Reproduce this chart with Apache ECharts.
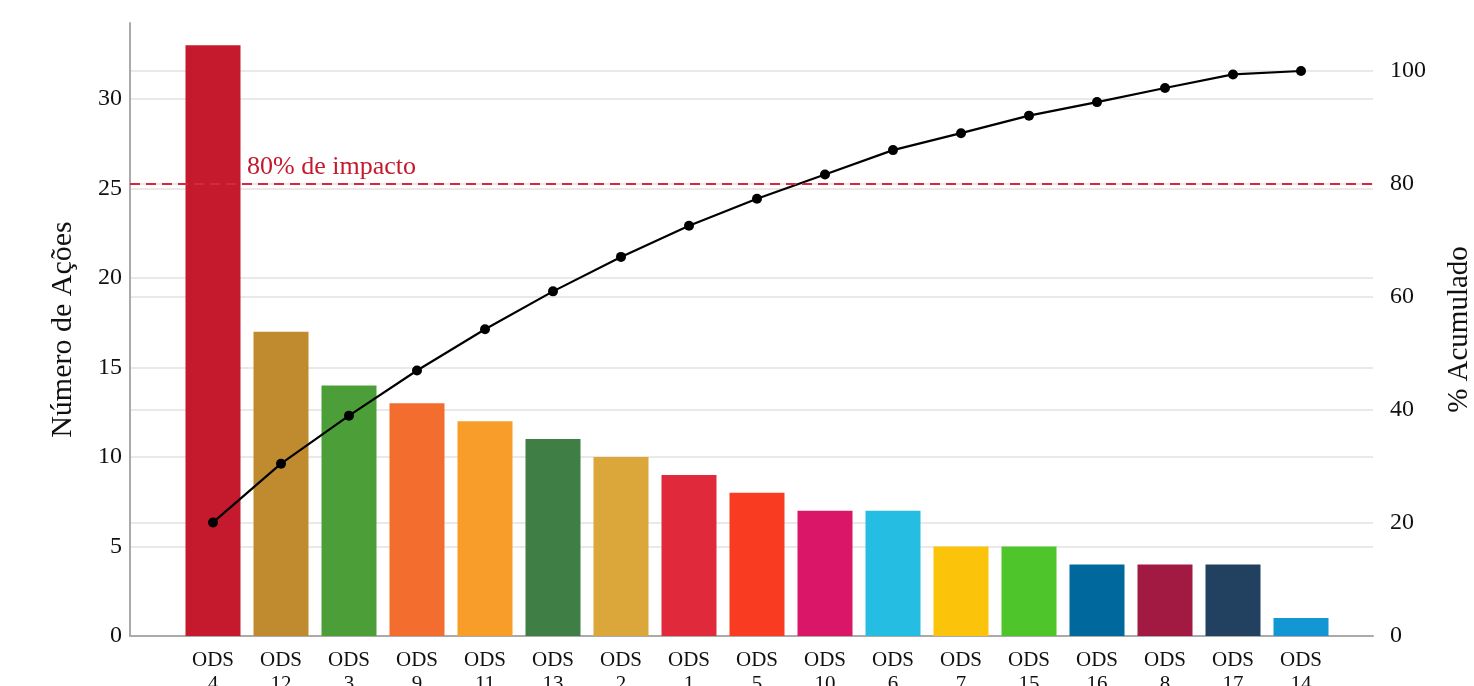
<!DOCTYPE html>
<html>
<head>
<meta charset="utf-8">
<script src="https://cdn.jsdelivr.net/npm/echarts@6/dist/echarts.min.js"></script>
<style>
  html, body { margin: 0; padding: 0; background: #fff; }
  #chart { width: 1474px; height: 686px; }
</style>
</head>
<body>
<div id="chart"></div>
<script>
// dados do grafico de Pareto
var categorias = ['ODS\n4', 'ODS\n12', 'ODS\n3', 'ODS\n9', 'ODS\n11', 'ODS\n13', 'ODS\n2', 'ODS\n1', 'ODS\n5',
  'ODS\n10', 'ODS\n6', 'ODS\n7', 'ODS\n15', 'ODS\n16', 'ODS\n8', 'ODS\n17', 'ODS\n14'];
var acoes = [33, 17, 14, 13, 12, 11, 10, 9, 8, 7, 7, 5, 5, 4, 4, 4, 1];
var acumulado = [20.1, 30.5, 39.0, 47.0, 54.3, 61.0, 67.1, 72.6, 77.4, 81.7, 86.0, 89.0, 92.1, 94.5, 97.0, 99.4, 100];
var cores = ['#C5192D', '#BF8B2E', '#4C9F38', '#F36D2E', '#F99D2A', '#3F7E44', '#DBA63A', '#E02A3B', '#F93C21',
  '#D91667', '#26BDE2', '#FCC30B', '#4EC52B', '#00689D', '#A21942', '#22405F', '#1296D4'];
var linha80 = 80;

var fonte = 'Liberation Serif, Times New Roman, serif';
var chart = echarts.init(document.getElementById('chart'));

var barData = [];
for (var i = 0; i < acoes.length; i++) {
  barData.push({ value: acoes[i], itemStyle: { color: cores[i] } });
}

chart.setOption({
  animation: false,
  textStyle: { fontFamily: fonte },
  grid: [
    { left: 130, right: 101, top: 23, bottom: 50, outerBoundsMode: 'none' },
    { left: 179, right: 139, top: 23, bottom: 50, outerBoundsMode: 'none' }
  ],
  xAxis: [
    {
      gridIndex: 0, type: 'value', min: 0, max: 1,
      axisLine: { show: true, lineStyle: { color: '#aaaaaa', width: 2 } },
      axisTick: { show: false }, axisLabel: { show: false }, splitLine: { show: false }
    },
    {
      gridIndex: 1, type: 'category', data: categorias,
      axisLine: { show: false }, axisTick: { show: false },
      axisLabel: { color: '#111', fontFamily: fonte, fontSize: 21, lineHeight: 24, margin: 12, interval: 0 }
    }
  ],
  yAxis: [
    {
      gridIndex: 0, type: 'value', position: 'left', min: 0, max: 34.25, interval: 5,
      name: 'Número de Ações', nameLocation: 'middle', nameGap: 52, nameRotate: 90,
      nameTextStyle: { fontFamily: fonte, fontSize: 30, color: '#111' },
      axisLine: { show: true, lineStyle: { color: '#aaaaaa', width: 2 } },
      axisTick: { show: false },
      axisLabel: { color: '#111', fontFamily: fonte, fontSize: 24, margin: 8, showMaxLabel: false },
      splitLine: { showMaxLine: false, lineStyle: { color: '#e2e2e2', width: 1.5 } }
    },
    {
      gridIndex: 0, type: 'value', position: 'right', min: 0, max: 108.5, interval: 20,
      name: '% Acumulado', nameLocation: 'middle', nameGap: 72, nameRotate: 90,
      nameTextStyle: { fontFamily: fonte, fontSize: 29, color: '#111' },
      axisLine: { show: false }, axisTick: { show: false },
      axisLabel: { color: '#111', fontFamily: fonte, fontSize: 24, margin: 17, showMaxLabel: false },
      splitLine: { showMaxLine: false, lineStyle: { color: '#e2e2e2', width: 1.5 } }
    },
    { gridIndex: 1, type: 'value', min: 0, max: 34.25, show: false },
    { gridIndex: 1, type: 'value', min: 0, max: 108.5, show: false }
  ],
  series: [
    {
      name: 'limite', type: 'line', xAxisIndex: 0, yAxisIndex: 1, data: [],
      markLine: {
        silent: true, symbol: 'none',
        lineStyle: { color: '#D7263D', type: [10, 6], width: 2 },
        label: {
          show: true, position: 'insideStartTop', formatter: '80% de impacto',
          color: '#C5192D', fontFamily: fonte, fontSize: 26, offset: [112, 1]
        },
        data: [{ yAxis: linha80 }]
      }
    },
    {
      name: 'Número de Ações', type: 'bar', xAxisIndex: 1, yAxisIndex: 2,
      barWidth: 55, data: barData
    },
    {
      name: '% Acumulado', type: 'line', xAxisIndex: 1, yAxisIndex: 3,
      data: acumulado, symbol: 'circle', symbolSize: 10,
      lineStyle: { color: '#000', width: 2.2 }, itemStyle: { color: '#000' }
    }
  ]
});
</script>
</body>
</html>
